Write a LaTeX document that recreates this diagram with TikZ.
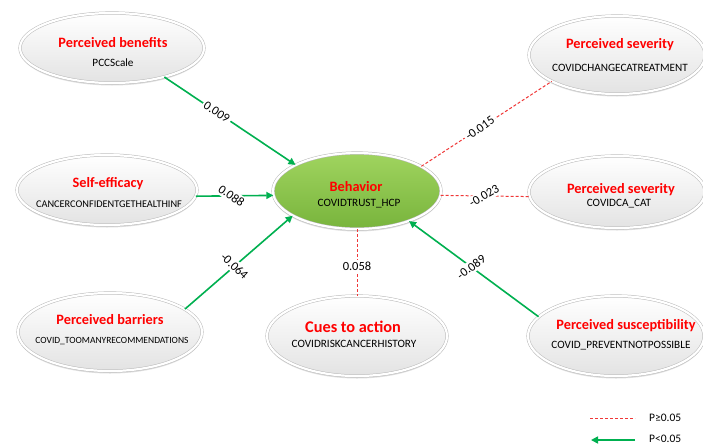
\documentclass[tikz,border=0pt]{standalone}
\usepackage{fontspec}
\setmainfont{Carlito}
\usetikzlibrary{shapes.geometric,arrows.meta,shadows}
\definecolor{arrgreen}{RGB}{0,176,80}
\definecolor{dashred}{RGB}{240,55,55}
\definecolor{behtop}{RGB}{160,212,95}
\definecolor{behbot}{RGB}{120,180,60}
\tikzset{
  oval/.style={ellipse, inner sep=0pt, top color=white, bottom color=gray!22,
    draw=gray!55, line width=0.5pt, double=white, double distance=2.2pt,
    drop shadow={shadow xshift=0pt, shadow yshift=-2.5pt, opacity=0.25}},
  behoval/.style={oval, top color=behtop, bottom color=behbot},
  ttl/.style={font=\fontsize{14.3}{16}\selectfont\bfseries, text=red, inner sep=0pt},
  sub/.style={font=\fontsize{11.2}{13}\selectfont, text=black, inner sep=0pt},
  sig/.style={draw=arrgreen, line width=1.6pt, -{Triangle[length=7pt,width=7pt]}},
  nsig/.style={draw=dashred, line width=1pt, dash pattern=on 3pt off 2pt},
  coef/.style={fill=white, inner sep=2pt, font=\fontsize{12.5}{14}\selectfont},
}
\begin{document}
\begin{tikzpicture}[x=1pt,y=-1pt]
\useasboundingbox[fill=white] (0,0) rectangle (703,445);
% ovals
\node[oval, minimum width=184pt, minimum height=70pt] (ben) at (112,48) {};
\node[oval, minimum width=180pt, minimum height=70pt] (self) at (107,190) {};
\node[oval, minimum width=184pt, minimum height=78pt] (bar) at (110,332) {};
\node[oval, minimum width=180pt, minimum height=80pt] (cue) at (357,336) {};
\node[behoval, minimum width=168pt, minimum height=76pt] (beh) at (357,191) {};
\node[oval, minimum width=176pt, minimum height=78pt] (sev1) at (617,55) {};
\node[oval, minimum width=176pt, minimum height=72pt] (sev2) at (617,192) {};
\node[oval, minimum width=176pt, minimum height=80pt] (sus) at (616,336) {};
% texts
\node[ttl] (benT) at (113,43) {Perceived benefits};
\node[sub] (benS) at (113,63) {PCCScale};
\node[ttl] (selfT) at (108,184) {Self-efficacy};
\node[sub, font=\fontsize{10.3}{12}\selectfont] (selfS) at (109,204) {CANCERCONFIDENTGETHEALTHINF};
\node[ttl] (barT) at (110,320) {Perceived barriers};
\node[sub, font=\fontsize{9.5}{11}\selectfont] (barS) at (112,341) {COVID\_TOOMANYRECOMMENDATIONS};
\node[ttl, font=\fontsize{16.3}{18}\selectfont\bfseries] (cueT) at (353,327) {Cues to action};
\node[sub] (cueS) at (354,344) {COVIDRISKCANCERHISTORY};
\node[ttl] (behT) at (356,187) {Behavior};
\node[sub] (behS) at (359,204) {COVIDTRUST\_HCP};
\node[ttl] (sev1T) at (620,45) {Perceived severity};
\node[sub] (sev1S) at (620,68) {COVIDCHANGECATREATMENT};
\node[ttl] (sev2T) at (621,190) {Perceived severity};
\node[sub] (sev2S) at (619,204) {COVIDCA\_CAT};
\node[ttl] (susT) at (626,326) {Perceived susceptibility};
\node[sub] (susS) at (621,346) {COVID\_PREVENTNOTPOSSIBLE};
% connectors
\draw[sig] (ben.-29) -- node[coef, pos=0.4, rotate=-34] (c1) {0.009} (beh.157);
\draw[sig] (self.-4) -- node[coef, pos=0.46, rotate=-35] (c2) {0.088} (beh.183);
\draw[sig] (bar.17) -- node[coef, pos=0.46, rotate=-43] (c3) {-0.064} (beh.201);
\draw[nsig] (beh.21) -- node[coef, pos=0.45, rotate=35] (c4) {-0.015} (sev1.202);
\draw[nsig] (beh.-3) -- node[coef, pos=0.49, rotate=30] (c5) {-0.023} (sev2.183);
\draw[nsig] (beh.-90) -- node[coef, pos=0.55] (c6) {0.058} (cue.90);
\draw[sig] (sus.166) -- node[coef, pos=0.52, rotate=37] (c7) {-0.089} (beh.-30);
% legend
\coordinate (l1a) at (590,418);
\coordinate (l1b) at (635,418);
\coordinate (l2a) at (635,440);
\coordinate (l2b) at (591,440);
\draw[nsig] (l1a) -- (l1b);
\draw[sig] (l2a) -- (l2b);
\node[anchor=west, inner sep=0pt, font=\fontsize{11.5}{13}\selectfont] (lg1) at (649,418) {P≥0.05};
\node[anchor=west, inner sep=0pt, font=\fontsize{11.5}{13}\selectfont] (lg2) at (649,439) {P<0.05};
\end{tikzpicture}
\end{document}
